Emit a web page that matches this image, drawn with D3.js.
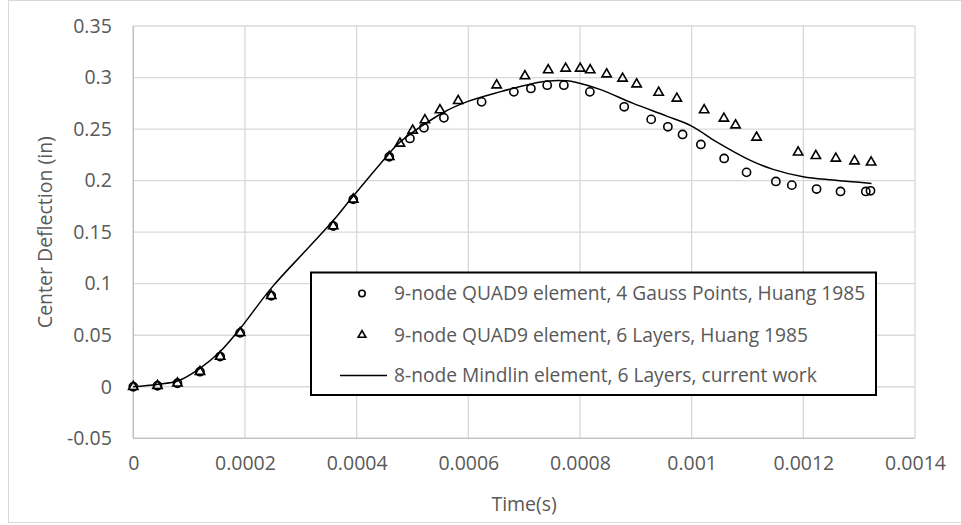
<!DOCTYPE html>
<html>
<head>
<meta charset="utf-8">
<script src="https://cdn.jsdelivr.net/npm/d3@7"></script>
<style>
  body { margin: 0; background: #fff; }
  text { font-family: 'Open Sans', sans-serif; fill: #595959; }
</style>
</head>
<body>
<svg id="chart"></svg>
<script>
// values
const sharedTime = [0, 0.0000433, 0.0000791, 0.0001194, 0.0001556, 0.0001914, 0.0002471, 0.0003581, 0.0003939, 0.0004584];
const sharedDeflection = [0, 0.001, 0.0034, 0.0146, 0.0293, 0.0523, 0.0883, 0.1559, 0.1818, 0.2231];

const gaussTime = sharedTime.concat([0.0004954, 0.0005205, 0.0005563, 0.0006238, 0.0006816, 0.0007121, 0.0007413, 0.0007711,
  0.0008177, 0.0008792, 0.0009275, 0.0009574, 0.0009837, 0.0010165, 0.0010582, 0.0010983, 0.0011508, 0.0011794,
  0.0012237, 0.0012666, 0.0013119, 0.0013203]);
const gaussDeflection = sharedDeflection.concat([0.2409, 0.2512, 0.2609, 0.2764, 0.2861, 0.2894, 0.2926, 0.2926,
  0.2861, 0.2716, 0.2594, 0.2522, 0.2448, 0.2351, 0.2215, 0.208, 0.1992, 0.1956,
  0.1918, 0.1895, 0.1895, 0.1901]);

const layersTime = sharedTime.concat([0.0004775, 0.0005003, 0.0005223, 0.0005492, 0.0005819, 0.0006507, 0.0007014, 0.0007431,
  0.0007743, 0.0008004, 0.0008183, 0.0008477, 0.0008763, 0.0009014, 0.0009409, 0.0009735, 0.0010224, 0.0010577,
  0.0010786, 0.0011162, 0.0011907, 0.0012224, 0.0012582, 0.0012917, 0.0013214]);
const layersDeflection = sharedDeflection.concat([0.2361, 0.2487, 0.2587, 0.2684, 0.2774, 0.2926, 0.3014, 0.3072,
  0.3088, 0.3088, 0.3072, 0.3033, 0.2991, 0.2936, 0.2854, 0.2797, 0.2684, 0.2603,
  0.2538, 0.2419, 0.2274, 0.2241, 0.2215, 0.2189, 0.2177]);

const mindlinTime = [0, 0.0000419, 0.0000806, 0.0001194, 0.0001552, 0.0001916, 0.0002471, 0.0003164, 0.0003581, 0.0003939,
  0.0004584, 0.0004775, 0.0005551, 0.000597, 0.0006566, 0.0007162, 0.0007402, 0.000776, 0.0007939, 0.0008357,
  0.0008953, 0.0009551, 0.001, 0.0010446, 0.0011042, 0.0011459, 0.0011996, 0.0012534, 0.0013221];
const mindlinDeflection = [0, 0.0023, 0.0058, 0.0178, 0.0339, 0.0566, 0.0957, 0.1365, 0.1612, 0.185,
  0.2264, 0.2373, 0.2661, 0.2764, 0.2861, 0.2943, 0.2965, 0.2968, 0.2952, 0.2885,
  0.2749, 0.2626, 0.2529, 0.2376, 0.2199, 0.2109, 0.2037, 0.2005, 0.1973];

const xTicks = [0, 0.0002, 0.0004, 0.0006, 0.0008, 0.001, 0.0012, 0.0014];
const yTicks = [-0.05, 0, 0.05, 0.1, 0.15, 0.2, 0.25, 0.3, 0.35];

const legendLabels = [
  '9-node QUAD9 element, 4 Gauss Points, Huang 1985',
  '9-node QUAD9 element, 6 Layers, Huang 1985',
  '8-node Mindlin element, 6 Layers, current work'
];

const W = 961, H = 525;
const margin = { top: 26, right: 46, bottom: 86.7, left: 133.3 },
  width = W - margin.left - margin.right,
  height = H - margin.top - margin.bottom;

const root = d3.select('#chart').attr('width', W).attr('height', H);

// outer chart border
root
  .append('rect')
  .attr('x', 8.5)
  .attr('y', 0.5)
  .attr('width', W)
  .attr('height', 522)
  .attr('fill', 'none')
  .attr('stroke', '#d9d9d9');

const svg = root
  .append('g')
  .attr('transform', 'translate(' + margin.left + ',' + margin.top + ')');

const xScale = d3.scaleLinear().domain([0, 0.0014]).range([0, width]);
const yScale = d3.scaleLinear().domain([-0.05, 0.35]).range([height, 0]);

// gridlines
svg
  .append('g')
  .selectAll('line')
  .data(yTicks)
  .enter()
  .append('line')
  .attr('x1', 0)
  .attr('x2', width)
  .attr('y1', d => yScale(d))
  .attr('y2', d => yScale(d))
  .attr('stroke', '#d9d9d9')
  .attr('stroke-width', 1.3);

svg
  .append('g')
  .selectAll('line')
  .data(xTicks)
  .enter()
  .append('line')
  .attr('x1', d => xScale(d))
  .attr('x2', d => xScale(d))
  .attr('y1', 0)
  .attr('y2', height)
  .attr('stroke', '#d9d9d9')
  .attr('stroke-width', 1.3);

// axis lines
svg
  .append('line')
  .attr('x1', 0).attr('x2', 0)
  .attr('y1', 0).attr('y2', height)
  .attr('stroke', '#bfbfbf')
  .attr('stroke-width', 1.3);
svg
  .append('line')
  .attr('x1', 0).attr('x2', width)
  .attr('y1', height).attr('y2', height)
  .attr('stroke', '#bfbfbf')
  .attr('stroke-width', 1.3);

// tick labels through the axis generators
const xAxis = svg
  .append('g')
  .attr('transform', 'translate(0,' + height + ')')
  .call(
    d3
      .axisBottom(xScale)
      .tickValues(xTicks)
      .tickSize(0)
      .tickPadding(18)
      .tickFormat(t => String(+t.toFixed(4)))
  );
xAxis.select('.domain').remove();
xAxis.selectAll('text').style('font-size', '19.5px').attr('fill', '#595959');

const yAxis = svg
  .append('g')
  .call(
    d3
      .axisLeft(yScale)
      .tickValues(yTicks)
      .tickSize(0)
      .tickPadding(21.5)
      .tickFormat(t => String(+t.toFixed(2)))
  );
yAxis.select('.domain').remove();
yAxis.selectAll('text').style('font-size', '19.5px').attr('fill', '#595959');

// axis titles
root
  .append('text')
  .attr('x', margin.left + width / 2)
  .attr('y', 511)
  .attr('text-anchor', 'middle')
  .style('font-size', '19.5px')
  .text('Time(s)');

root
  .append('text')
  .attr('transform', 'translate(52,' + (margin.top + height / 2) + ') rotate(-90)')
  .attr('text-anchor', 'middle')
  .style('font-size', '19.5px')
  .text('Center Deflection (in)');

// Mindlin line (smoothed like the spreadsheet line)
const line = d3
  .line()
  .x(d => xScale(d[0]))
  .y(d => yScale(d[1]))
  .curve(d3.curveCatmullRom.alpha(0.5));

svg
  .append('path')
  .datum(d3.zip(mindlinTime, mindlinDeflection))
  .attr('d', line)
  .attr('fill', 'none')
  .attr('stroke', '#000')
  .attr('stroke-width', 1.5);

const triangle = d3.symbol().type(d3.symbolTriangle).size(38);

svg
  .append('g')
  .selectAll('path')
  .data(d3.zip(layersTime, layersDeflection))
  .enter()
  .append('path')
  .attr('d', triangle)
  .attr('transform', d => 'translate(' + xScale(d[0]) + ',' + yScale(d[1]) + ')')
  .attr('fill', 'none')
  .attr('stroke', '#000')
  .attr('stroke-width', 1.6);

svg
  .append('g')
  .selectAll('circle')
  .data(d3.zip(gaussTime, gaussDeflection))
  .enter()
  .append('circle')
  .attr('cx', d => xScale(d[0]))
  .attr('cy', d => yScale(d[1]))
  .attr('r', 4.1)
  .attr('fill', 'none')
  .attr('stroke', '#000')
  .attr('stroke-width', 1.6);

// legend
const legend = root.append('g');
legend
  .append('rect')
  .attr('x', 311)
  .attr('y', 272.5)
  .attr('width', 565)
  .attr('height', 122.5)
  .attr('fill', '#fff')
  .attr('stroke', '#000')
  .attr('stroke-width', 2);

const rowY = [293.5, 335, 375.5];

legend
  .append('circle')
  .attr('cx', 362)
  .attr('cy', rowY[0])
  .attr('r', 3.2)
  .attr('fill', 'none')
  .attr('stroke', '#000')
  .attr('stroke-width', 1.6);

legend
  .append('path')
  .attr('d', d3.symbol().type(d3.symbolTriangle).size(26))
  .attr('transform', 'translate(362,' + rowY[1] + ')')
  .attr('fill', 'none')
  .attr('stroke', '#000')
  .attr('stroke-width', 1.6);

legend
  .append('line')
  .attr('x1', 340)
  .attr('x2', 387)
  .attr('y1', rowY[2])
  .attr('y2', rowY[2])
  .attr('stroke', '#000')
  .attr('stroke-width', 1.5);

legend
  .selectAll('.legend-label')
  .data(legendLabels)
  .enter()
  .append('text')
  .attr('class', 'legend-label')
  .attr('x', 394)
  .attr('y', (d, i) => rowY[i])
  .attr('dy', '0.35em')
  .style('font-size', '19.2px')
  .text(d => d);
</script>
</body>
</html>
